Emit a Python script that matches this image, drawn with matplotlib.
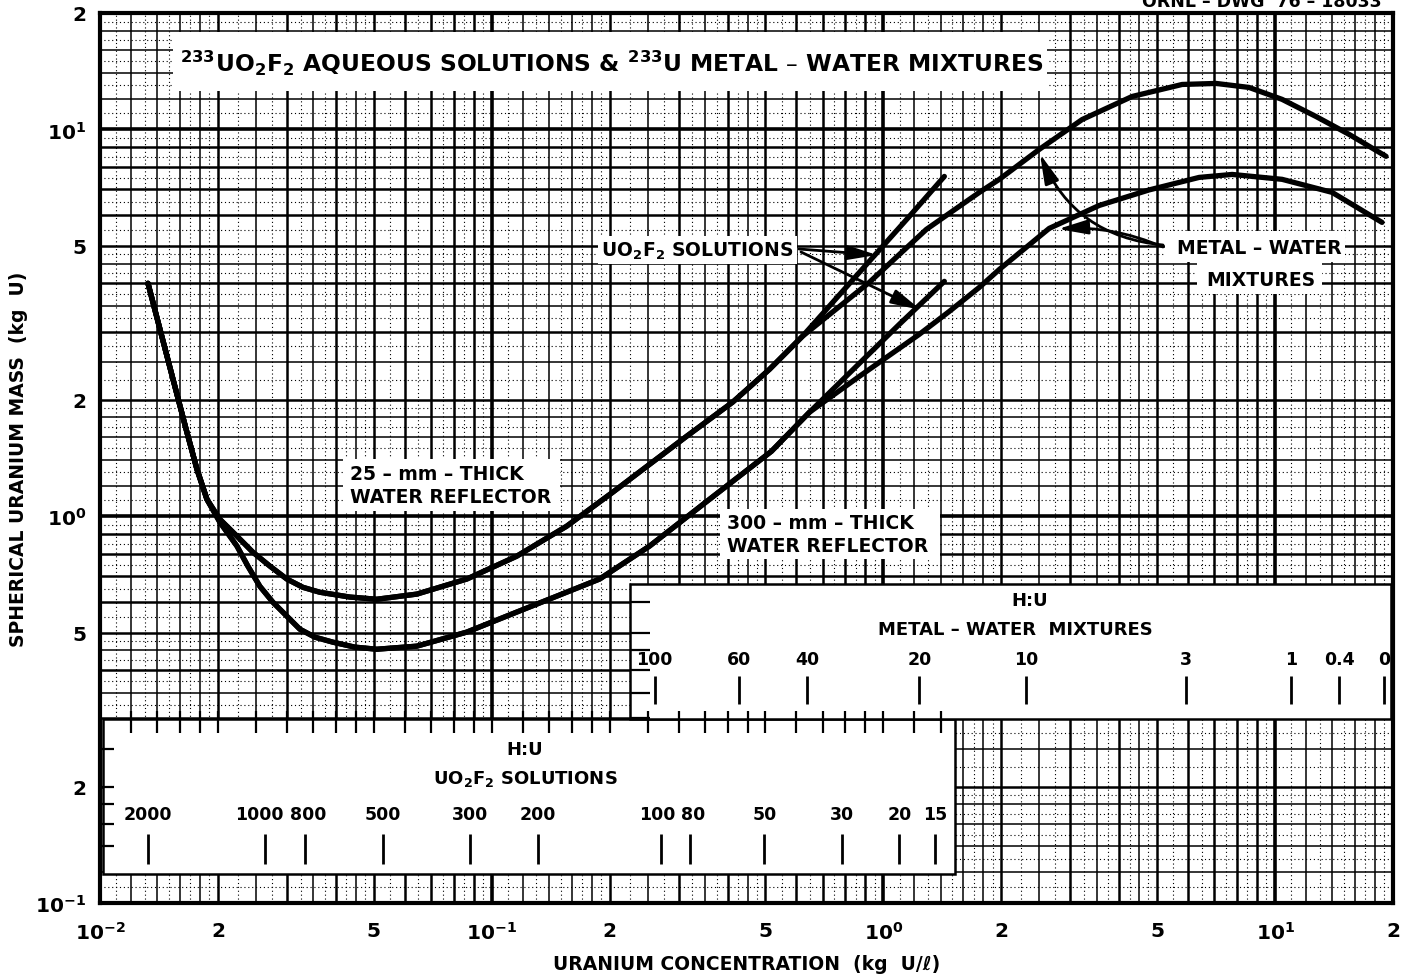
import numpy as np
import matplotlib
matplotlib.use("Agg")
import matplotlib.pyplot as plt
from matplotlib.patches import Rectangle

plt.rcParams['font.family'] = ['DejaVu Sans']
plt.rcParams['font.weight'] = 'bold'
plt.rcParams['axes.labelweight'] = 'bold'
plt.rcParams['mathtext.default'] = 'bf'

# ---------------- data (kg U / l  vs  kg U) ----------------
# 25-mm-thick water reflector, UO2F2 solutions
sol25_conc = [0.01326, 0.01572, 0.01667, 0.01768, 0.01875, 0.02023, 0.02237, 0.02457,
              0.02715, 0.02999, 0.03295, 0.0364, 0.04343, 0.05088, 0.0644, 0.0864,
              0.1158, 0.1553, 0.2036, 0.3144, 0.412, 0.512, 0.6215, 0.8686, 1.165, 1.431]
sol25_mass = [4.0, 2.066, 1.648, 1.323, 1.106, 0.982, 0.888, 0.807,
              0.743, 0.688, 0.655, 0.636, 0.618, 0.610, 0.629, 0.688,
              0.788, 0.942, 1.153, 1.609, 1.971, 2.398, 2.919, 4.27, 5.96, 7.56]
# 25-mm-thick water reflector, metal-water mixtures
mw25_conc = [0.01326, 0.01572, 0.01667, 0.01768, 0.01875, 0.02023, 0.02237, 0.02457,
             0.02715, 0.02999, 0.03295, 0.0364, 0.04343, 0.05088, 0.0644, 0.0864,
             0.1158, 0.1553, 0.2036, 0.3144, 0.412, 0.512, 0.6215, 0.921, 1.287, 1.758,
             1.977, 2.50, 3.218, 4.317, 5.79, 7.07, 8.58, 10.42, 12.72, 15.45, 19.2]
mw25_mass = [4.0, 2.066, 1.648, 1.323, 1.106, 0.982, 0.888, 0.807,
             0.743, 0.688, 0.655, 0.636, 0.618, 0.610, 0.629, 0.688,
             0.788, 0.942, 1.153, 1.609, 1.971, 2.398, 2.919, 4.025, 5.515, 6.875,
             7.43, 8.88, 10.61, 12.17, 13.07, 13.15, 12.84, 11.96, 10.80, 9.71, 8.52]
# 300-mm-thick water reflector, UO2F2 solutions
sol300_conc = [0.01326, 0.01572, 0.01667, 0.01768, 0.01875, 0.02023, 0.02237, 0.02385,
               0.02559, 0.02762, 0.02999, 0.03237, 0.03536, 0.0393, 0.04472, 0.05088,
               0.0644, 0.0864, 0.1158, 0.1553, 0.1886, 0.2529, 0.3598, 0.5179, 0.6475,
               0.8686, 1.098, 1.431]
sol300_mass = [4.0, 2.066, 1.648, 1.323, 1.106, 0.965, 0.837, 0.743,
               0.659, 0.5996, 0.5516, 0.5105, 0.4868, 0.4725, 0.4587, 0.453,
               0.4614, 0.5017, 0.565, 0.636, 0.688, 0.837, 1.106, 1.472, 1.857,
               2.485, 3.134, 4.048]
# 300-mm-thick water reflector, metal-water mixtures
mw300_conc = [0.01326, 0.01572, 0.01667, 0.01768, 0.01875, 0.02023, 0.02237, 0.02385,
              0.02559, 0.02762, 0.02999, 0.03237, 0.03536, 0.0393, 0.04472, 0.05088,
              0.0644, 0.0864, 0.1158, 0.1553, 0.1886, 0.2529, 0.3598, 0.5179, 0.6475,
              0.8686, 1.235, 1.474, 1.758, 1.977, 2.651, 3.556, 4.771, 6.40, 7.77,
              10.42, 13.98, 18.75]
mw300_mass = [4.0, 2.066, 1.648, 1.323, 1.106, 0.965, 0.837, 0.743,
              0.659, 0.5996, 0.5516, 0.5105, 0.4868, 0.4725, 0.4587, 0.453,
              0.4614, 0.5017, 0.565, 0.636, 0.688, 0.837, 1.106, 1.472, 1.857,
              2.300, 2.953, 3.386, 3.906, 4.346, 5.549, 6.36, 6.977, 7.516, 7.65,
              7.43, 6.875, 5.75]

# H:U secondary scales
hu_mw_labels = ['100', '60', '40', '20', '10', '3', '1', '0.4', '0']
hu_mw_conc = [0.2605, 0.4267, 0.640, 1.235, 2.316, 5.93, 10.98, 14.56, 18.97]
hu_sol_labels = ['2000', '1000', '800', '500', '300', '200', '100', '80', '50', '30', '20', '15']
hu_sol_conc = [0.01326, 0.02636, 0.03334, 0.0527, 0.0879, 0.1310, 0.2698, 0.320,
               0.497, 0.786, 1.098, 1.357]

x_ticks = [0.01, 0.02, 0.05, 0.1, 0.2, 0.5, 1, 2, 5, 10, 20]
x_ticklabels = [r'$10^{-2}$', '2', '5', r'$10^{-1}$', '2', '5', r'$10^{0}$', '2', '5', r'$10^{1}$', '2']
y_ticks = [0.1, 0.2, 0.5, 1, 2, 5, 10, 20]
y_ticklabels = [r'$10^{-1}$', '2', '5', r'$10^{0}$', '2', '5', r'$10^{1}$', '2']

# ---------------- figure ----------------
W, H = 1402, 979
L, R, T, B = 100, 1393, 14, 904
fig = plt.figure(figsize=(W / 100, H / 100), dpi=100)
ax = fig.add_axes([L / W, 1 - B / H, (R - L) / W, (B - T) / H])
ax.set_xscale('log')
ax.set_yscale('log')
ax.set_xlim(1e-2, 20)
ax.set_ylim(1e-1, 20)


def AX(px):
    return (px - L) / (R - L)


def AY(py):
    return (B - py) / (B - T)


# graph-paper grid
heavy_m = [1]
mid_m = [2, 3, 4, 5, 6, 7, 8, 9]
light_m = [1.2, 1.4, 1.6, 1.8, 2.5, 3.5, 4.5]
dot_m = sorted(set([round(v, 2) for v in np.arange(1.1, 2.0, 0.2)] +
                   [round(v, 2) for v in np.arange(2.25, 5.0, 0.5)] +
                   [round(v, 2) for v in np.arange(5.5, 10.0, 1.0)]))


def grid_values(mults, lo, hi, dec0, dec1):
    out = []
    for d in range(dec0, dec1 + 1):
        for m in mults:
            v = m * 10.0 ** d
            if lo * 1.0001 < v < hi * 0.9999:
                out.append(v)
    return out


solid_x = []
for mults, lw in [(heavy_m, 2.6), (mid_m, 1.8), (light_m, 1.1)]:
    vals = grid_values(mults, 1e-2, 20, -2, 1)
    solid_x += vals
    for v in vals:
        ax.axvline(v, color='k', lw=lw, zorder=1)
for v in grid_values(dot_m, 1e-2, 20, -2, 1):
    ax.axvline(v, color='k', lw=0.8, ls=(0, (1, 2.5)), zorder=1)

solid_y = []
for mults, lw in [(heavy_m, 2.6), (mid_m, 1.8), (light_m, 1.1)]:
    vals = grid_values(mults, 1e-1, 20, -1, 1)
    solid_y += vals
    for v in vals:
        ax.axhline(v, color='k', lw=lw, zorder=1)
for v in grid_values(dot_m, 1e-1, 20, -1, 1):
    ax.axhline(v, color='k', lw=0.8, ls=(0, (1, 2.5)), zorder=1)


def white_box(px0, py0, px1, py1, edge=False):
    r = Rectangle((AX(px0), AY(py1)), AX(px1) - AX(px0), AY(py0) - AY(py1),
                  transform=ax.transAxes, facecolor='white',
                  edgecolor='k' if edge else 'none', lw=1.8 if edge else 0,
                  zorder=2, clip_on=False)
    ax.add_patch(r)


# boxes covering the grid
white_box(173, 33, 1047, 92)                 # title
white_box(103, 720, 955, 875, edge=True)     # H:U UO2F2 solutions
white_box(630, 585, 1391, 720, edge=True)    # H:U metal-water
white_box(343, 460, 560, 512)                # 25-mm label
white_box(720, 510, 940, 560)                # 300-mm label
white_box(598, 237, 797, 265)                # UO2F2 solutions label
white_box(1165, 232, 1345, 263)              # metal-water label line 1
white_box(1197, 263, 1322, 295)              # metal-water label line 2

# stubs of the paper grid along box edges
xt = ax.get_xaxis_transform()
yt = ax.get_yaxis_transform()
for v in solid_x:
    if v < 1.5:
        ax.plot([v, v], [AY(712), AY(734)], transform=xt, color='k', lw=1.6, zorder=2.5,
                solid_capstyle='butt')
for v in solid_y:
    if 0.12 < v < 0.3:
        ax.plot([AX(100), AX(114)], [v, v], transform=yt, color='k', lw=1.6, zorder=2.5,
                solid_capstyle='butt')
    if 0.3 < v < 0.66:
        ax.plot([AX(630), AX(650)], [v, v], transform=yt, color='k', lw=1.6, zorder=2.5,
                solid_capstyle='butt')

# curves
for xs, ys in [(sol25_conc, sol25_mass), (mw25_conc, mw25_mass),
               (sol300_conc, sol300_mass), (mw300_conc, mw300_mass)]:
    ax.plot(xs, ys, color='k', lw=3.8, solid_joinstyle='round', solid_capstyle='round',
            zorder=4)

# H:U scales
sol_label_shift = {'1000': -6, '800': 3, '100': -3, '80': 4}
for lab, c in zip(hu_mw_labels, hu_mw_conc):
    ax.plot([c, c], [AY(705), AY(677)], transform=xt, color='k', lw=2.0, zorder=3,
            solid_capstyle='butt')
    ax.text(c, AY(660), lab, transform=xt, ha='center', va='center', fontsize=12.5, zorder=5)
for lab, c in zip(hu_sol_labels, hu_sol_conc):
    ax.plot([c, c], [AY(865), AY(835)], transform=xt, color='k', lw=2.0, zorder=3,
            solid_capstyle='butt')
    t = ax.text(c, AY(815), lab, transform=xt, ha='center', va='center', fontsize=12.5,
                zorder=5)
    if lab in sol_label_shift:
        from matplotlib.transforms import offset_copy
        t.set_transform(offset_copy(xt, fig=fig, x=sol_label_shift[lab], y=0, units='dots'))

tk = dict(transform=ax.transAxes, zorder=5, clip_on=False)
ax.text(AX(1030), AY(601), 'H:U', ha='center', va='center', fontsize=13, **tk)
ax.text(AX(1015), AY(630), 'METAL – WATER  MIXTURES', ha='center', va='center', fontsize=13, **tk)
ax.text(AX(525), AY(750), 'H:U', ha='center', va='center', fontsize=13, **tk)
ax.text(AX(525), AY(779), r'UO$_2$F$_2$ SOLUTIONS', ha='center', va='center', fontsize=13, **tk)

# title and labels
ax.text(AX(612), AY(63),
        r'$^{233}$UO$_2$F$_2$ AQUEOUS SOLUTIONS & $^{233}$U METAL – WATER MIXTURES',
        ha='center', va='center', fontsize=16.8, **tk)
ax.text(AX(350), AY(486), '25 – mm – THICK\nWATER REFLECTOR', ha='left', va='center',
        fontsize=13.5, linespacing=1.25, **tk)
ax.text(AX(727), AY(535), '300 – mm – THICK\nWATER REFLECTOR', ha='left', va='center',
        fontsize=13.5, linespacing=1.25, **tk)
ax.text(AX(697), AY(251), r'UO$_2$F$_2$ SOLUTIONS', ha='center', va='center',
        fontsize=13.5, **tk)
ax.text(AX(1259), AY(249), 'METAL – WATER', ha='center', va='center', fontsize=13.5, **tk)
ax.text(AX(1261), AY(280), 'MIXTURES', ha='center', va='center', fontsize=13.5, **tk)

# arrows
ap = dict(arrowstyle='-|>,head_length=0.9,head_width=0.22', color='k', lw=2.0,
          shrinkA=0, shrinkB=0, mutation_scale=20)
ax.annotate('', xy=(AX(877), AY(256)), xytext=(AX(799), AY(250)),
            xycoords='axes fraction', textcoords='axes fraction',
            arrowprops=ap, zorder=5)
ax.annotate('', xy=(AX(921), AY(311)), xytext=(AX(801), AY(253)),
            xycoords='axes fraction', textcoords='axes fraction',
            arrowprops=ap, zorder=5)
ax.annotate('', xy=(AX(1040), AY(155)), xytext=(AX(1163), AY(246)),
            xycoords='axes fraction', textcoords='axes fraction',
            arrowprops=dict(ap, connectionstyle='arc3,rad=-0.3'), zorder=5)
ax.annotate('', xy=(AX(1058), AY(230)), xytext=(AX(1163), AY(248)),
            xycoords='axes fraction', textcoords='axes fraction',
            arrowprops=dict(ap, connectionstyle='arc3,rad=0.12'), zorder=5)

fig.text(1262 / W, 1 - 2 / H, 'ORNL – DWG  76 – 18033', ha='center', va='center',
         fontsize=12.5, fontweight='bold')

# axes, ticks
ax.set_xticks(x_ticks)
ax.set_xticklabels(x_ticklabels)
ax.set_yticks(y_ticks)
ax.set_yticklabels(y_ticklabels)
ax.xaxis.set_minor_locator(matplotlib.ticker.NullLocator())
ax.yaxis.set_minor_locator(matplotlib.ticker.NullLocator())
ax.tick_params(length=0, labelsize=14.5, pad=10)
ax.tick_params(axis='x', pad=13)
for s in ax.spines.values():
    s.set_linewidth(3.0)
    s.set_zorder(6)

ax.set_xlabel('URANIUM CONCENTRATION  (kg  U/ℓ)', fontsize=13.5, labelpad=8)
ax.set_ylabel('SPHERICAL URANIUM MASS  (kg  U)', fontsize=13.5)
ax.yaxis.set_label_coords(AX(28), 0.5)

fig.savefig('out.png', dpi=100, facecolor='white')
